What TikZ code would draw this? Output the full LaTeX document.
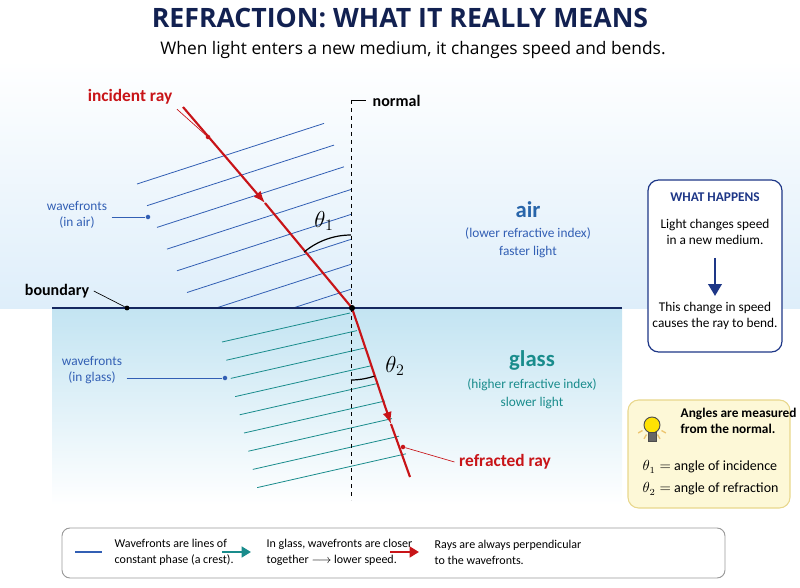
\documentclass[tikz,border=0pt]{standalone}
\usepackage{fontspec}
\setmainfont{Carlito}
\newfontfamily\titlefont{Open Sans}
\usetikzlibrary{arrows.meta,positioning}
\definecolor{rayred}{RGB}{200,20,24}
\definecolor{wfblue}{RGB}{50,95,180}
\definecolor{wfteal}{RGB}{25,140,140}
\definecolor{navy}{RGB}{30,55,135}
\definecolor{airblue}{RGB}{222,238,250}
\definecolor{glassblue}{RGB}{195,228,242}
\definecolor{noteyellow}{RGB}{253,248,215}
\definecolor{noteedge}{RGB}{232,215,140}
\tikzset{
  ray/.style={rayred, line width=1.6pt},
  pointer/.style={line width=0.5pt},
  dotmark/.style={circle, fill, inner sep=1.3pt},
  lbl/.style={font=\fontsize{10}{12.5}\selectfont, align=center},
}
\begin{document}
\begin{tikzpicture}[x=0.75pt,y=-0.75pt]
\useasboundingbox (0,0) rectangle (800,588);

% Background media
\shade[top color=white, bottom color=airblue] (0,60) rectangle (800,308);
\shade[top color=glassblue, bottom color=white] (52,308) rectangle (622,505);

% Title
\node[font=\titlefont\fontsize{20}{24}\selectfont\bfseries, text=navy!60!black] (title) at (400,18) {REFRACTION: WHAT IT REALLY MEANS};
\node[font=\titlefont\fontsize{13}{16}\selectfont] (subtitle) at (413,50) {When light enters a new medium, it changes speed and bends.};

% Wavefronts in air
\begin{scope}
\clip (100,100) rectangle (351,308);
\foreach \i in {0,...,7} {
  \draw[wfblue, line width=0.6pt] (137+10*\i, 184+21.7*\i) -- ++(187, -60.6);
}
\end{scope}

% Wavefronts in glass
\foreach \i in {0,...,8} {
  \draw[wfteal, line width=0.6pt] (222+4.4*\i, 342+18.2*\i) -- ++(128+2.6*\i, -29-0.6*\i);
}

% Boundary and normal
\draw[navy!70!black, line width=0.8pt] (52,308) -- (622,308);
\draw[dashed, line width=0.6pt] (351,100) -- (351,500);
\draw[line width=0.6pt] (351,100) -- (366,100);
\node[font=\fontsize{12}{14}\selectfont\bfseries, anchor=west] (normal) at (368,101) {normal};

% Rays
\coordinate (src) at (183,107);
\coordinate (inmid) at (265,203);
\coordinate (hit) at (352,308);
\coordinate (outmid) at (391,424);
\coordinate (dst) at (410,477);
\draw[ray, -{Latex[length=9pt,width=7pt]}] (src) -- (inmid);
\draw[ray] (inmid) -- (hit);
\draw[ray, -{Latex[length=9pt,width=7pt]}] (hit) -- (outmid);
\draw[ray] (outmid) -- (dst);
\node[dotmark, inner sep=1.6pt] at (hit) {};

% Angles
\draw[line width=0.9pt] (351,235) arc[start angle=270, end angle=230, radius=73];
\node[font=\fontsize{17}{17}\selectfont] (th1) at (324,221) {$\theta_1$};
\draw[line width=0.9pt] (351,380) arc[start angle=90, end angle=71, radius=72];
\node[font=\fontsize{17}{17}\selectfont] (th2) at (395,366) {$\theta_2$};

% Ray labels
\node[font=\fontsize{13}{15}\selectfont\bfseries, text=rayred] (inc) at (130,97) {incident ray};
\node[dotmark, rayred, inner sep=1.2pt] (incdot) at (208,137) {};
\draw[pointer, rayred] (inc.south east) -- (incdot);
\node[font=\fontsize{13}{15}\selectfont\bfseries, text=rayred] (refr) at (505,462) {refracted ray};
\node[dotmark, rayred, inner sep=1.2pt] (refrdot) at (403,447) {};
\draw[pointer, rayred] (refr.west) -- (refrdot);

% Boundary and wavefront labels
\node[font=\fontsize{12}{14}\selectfont\bfseries] (bnd) at (57,291) {boundary};
\node[dotmark, inner sep=1.3pt] (bnddot) at (127,308) {};
\draw[pointer] (bnd.east) -- (bnddot);
\node[lbl, text=wfblue] (wfair) at (77,215) {wavefronts\\(in air)};
\node[dotmark, wfblue, inner sep=1.2pt] (wfairdot) at (148,217) {};
\draw[pointer, wfblue] (wfair.east |- wfairdot) -- (wfairdot);
\node[lbl, text=wfblue] (wfglass) at (92,370) {wavefronts\\(in glass)};
\node[dotmark, wfblue, inner sep=1.2pt] (wfglassdot) at (225,378) {};
\draw[pointer, wfblue] (wfglass.east |- wfglassdot) -- (wfglassdot);

% Media labels
\node[font=\fontsize{17}{19}\selectfont\bfseries, text=wfblue!80!teal] (air) at (528,210) {air};
\node[lbl, text=wfblue] (airsub) at (528,243) {(lower refractive index)\\[1pt]faster light};
\node[font=\fontsize{17}{19}\selectfont\bfseries, text=wfteal] (glass) at (532,360) {glass};
\node[lbl, text=wfteal] (glasssub) at (532,394) {(higher refractive index)\\[1pt]slower light};

% What happens box
\draw[navy, line width=0.9pt, rounded corners=8pt, fill=white] (648,180) rectangle (782,352);
\node[font=\fontsize{10}{12}\selectfont\bfseries, text=navy] (whead) at (715,197) {WHAT HAPPENS};
\node[lbl] (wtop) at (715,232) {Light changes speed\\in a new medium.};
\node[lbl] (wbot) at (715,316) {This change in speed\\causes the ray to bend.};
\draw[navy, line width=2pt, -{Triangle[length=9pt,width=10pt]}] (715,258) -- (715,296);

% Angle note box
\draw[noteedge, line width=0.8pt, rounded corners=8pt, fill=noteyellow] (628,400) rectangle (790,508);
% bulb
\foreach \a in {150,120,90,60,30} {
  \draw[noteedge!80!orange, line width=1pt] (652,425) ++(\a:11) -- ++(\a:5);
}
\draw[black!70, fill=yellow!85!orange, line width=0.7pt] (652,425) circle[radius=8];
\draw[black!70, fill=black!60] (648,432) rectangle (656,441);
\node[font=\fontsize{10}{12.5}\selectfont\bfseries, align=left, anchor=west] (anote) at (676,421) {Angles are measured\\from the normal.};
\node[font=\fontsize{10.5}{12}\selectfont, anchor=west] (t1) at (638,467) {$\theta_1 =$ angle of incidence};
\node[font=\fontsize{10.5}{12}\selectfont, anchor=west] (t2) at (638,489) {$\theta_2 =$ angle of refraction};

% Legend
\draw[black!40, line width=0.7pt, rounded corners=6pt, fill=white] (62,528) rectangle (725,578);
\draw[wfblue, line width=1pt] (75,552) -- (102,552);
\node[font=\fontsize{9}{12}\selectfont, align=left, anchor=west] (leg1) at (110,552) {Wavefronts are lines of\\constant phase (a crest).};
\draw[wfteal, line width=2pt, -{Triangle[length=7pt,width=8pt]}] (222,552) -- (251,552);
\node[font=\fontsize{9}{12}\selectfont, align=left, anchor=west] (leg2) at (262,552) {In glass, wavefronts are closer\\together $\longrightarrow$ lower speed.};
\draw[rayred, line width=2pt, -{Triangle[length=7pt,width=8pt]}] (390,552) -- (419,552);
\node[font=\fontsize{9}{12}\selectfont, align=left, anchor=west] (leg3) at (430,552) {Rays are always perpendicular\\to the wavefronts.};
\end{tikzpicture}
\end{document}
